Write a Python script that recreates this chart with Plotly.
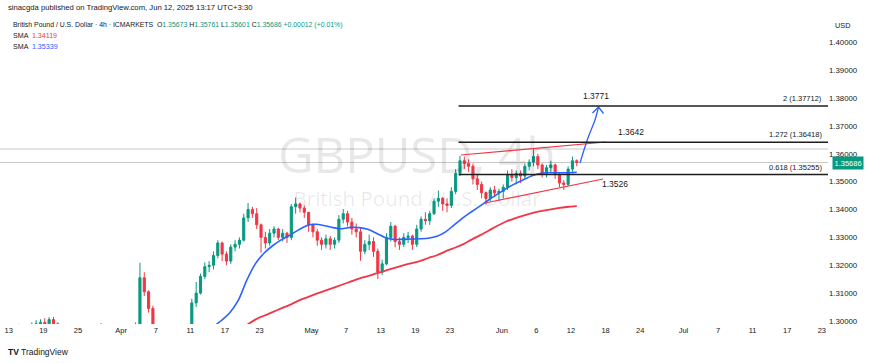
import numpy as np
import pandas as pd
import plotly.graph_objects as go

# ---------------- data ----------------
ORIGIN = "2025-03-12"
bar_days = [d.strftime("%Y-%m-%d") for d in pd.bdate_range("2025-03-12", "2025-06-12")]
bar_times = [f"{d} {h}" for d in bar_days for h in ("00:00", "12:00")]

opens = [1.2940, 1.2950, 1.2960, 1.2945, 1.2955, 1.2965, 1.2935, 1.2955, 1.2985, 1.2990,
         1.2995, 1.2985, 1.3005, 1.2990, 1.2955, 1.2935, 1.2920, 1.2930, 1.2920, 1.2945,
         1.2940, 1.2890, 1.2880, 1.2945, 1.2950, 1.2935, 1.2940, 1.2900, 1.2920, 1.2930,
         1.2910, 1.2920, 1.2985, 1.3155, 1.3105, 1.3045, 1.2895, 1.2780, 1.2760, 1.2800,
         1.2750, 1.2740, 1.2880, 1.2930, 1.2960, 1.3065, 1.3100, 1.3160, 1.3195, 1.3200,
         1.3235, 1.3280, 1.3240, 1.3215, 1.3265, 1.3275, 1.3290, 1.3370, 1.3400, 1.3385,
         1.3345, 1.3300, 1.3280, 1.3315, 1.3330, 1.3300, 1.3315, 1.3300, 1.3410, 1.3420,
         1.3405, 1.3390, 1.3345, 1.3320, 1.3290, 1.3275, 1.3295, 1.3275, 1.3290, 1.3365,
         1.3385, 1.3355, 1.3330, 1.3320, 1.3250, 1.3275, 1.3285, 1.3250, 1.3175, 1.3205,
         1.3300, 1.3340, 1.3285, 1.3275, 1.3300, 1.3305, 1.3275, 1.3330, 1.3365, 1.3360,
         1.3385, 1.3430, 1.3440, 1.3420, 1.3415, 1.3465, 1.3530, 1.3575, 1.3565, 1.3555,
         1.3510, 1.3490, 1.3460, 1.3440, 1.3470, 1.3460, 1.3465, 1.3480, 1.3525, 1.3515,
         1.3530, 1.3520, 1.3555, 1.3570, 1.3590, 1.3560, 1.3530, 1.3550, 1.3560, 1.3525,
         1.3495, 1.3490, 1.3545, 1.3575]
highs = [1.2960, 1.2975, 1.2970, 1.2965, 1.2990, 1.2980, 1.2965, 1.2995, 1.3003, 1.3006,
         1.3010, 1.3014, 1.3015, 1.2995, 1.2970, 1.2960, 1.2945, 1.2950, 1.2960, 1.2960,
         1.2955, 1.2910, 1.2960, 1.2992, 1.2960, 1.2955, 1.2945, 1.2945, 1.2945, 1.2935,
         1.2930, 1.2995, 1.3209, 1.3175, 1.3110, 1.3055, 1.2900, 1.2890, 1.2830, 1.2840,
         1.2780, 1.2900, 1.2960, 1.2990, 1.3080, 1.3140, 1.3170, 1.3210, 1.3215, 1.3250,
         1.3290, 1.3285, 1.3250, 1.3275, 1.3290, 1.3300, 1.3385, 1.3423, 1.3410, 1.3405,
         1.3350, 1.3320, 1.3330, 1.3340, 1.3335, 1.3330, 1.3320, 1.3420, 1.3443, 1.3425,
         1.3415, 1.3390, 1.3350, 1.3330, 1.3300, 1.3310, 1.3305, 1.3300, 1.3380, 1.3402,
         1.3395, 1.3370, 1.3350, 1.3335, 1.3290, 1.3310, 1.3300, 1.3260, 1.3220, 1.3315,
         1.3355, 1.3345, 1.3300, 1.3315, 1.3320, 1.3310, 1.3345, 1.3375, 1.3390, 1.3395,
         1.3440, 1.3468, 1.3445, 1.3440, 1.3480, 1.3545, 1.3593, 1.3590, 1.3580, 1.3565,
         1.3525, 1.3500, 1.3465, 1.3480, 1.3485, 1.3475, 1.3490, 1.3540, 1.3545, 1.3540,
         1.3540, 1.3565, 1.3580, 1.3616, 1.3600, 1.3565, 1.3560, 1.3575, 1.3565, 1.3535,
         1.3505, 1.3555, 1.3590, 1.3580]
lows = [1.2925, 1.2940, 1.2935, 1.2925, 1.2940, 1.2920, 1.2930, 1.2945, 1.2965, 1.2975,
        1.2975, 1.2965, 1.2975, 1.2945, 1.2920, 1.2915, 1.2905, 1.2910, 1.2910, 1.2920,
        1.2870, 1.2860, 1.2875, 1.2930, 1.2920, 1.2915, 1.2875, 1.2890, 1.2905, 1.2880,
        1.2890, 1.2915, 1.2980, 1.3090, 1.3030, 1.2880, 1.2710, 1.2740, 1.2740, 1.2730,
        1.2710, 1.2720, 1.2860, 1.2900, 1.2960, 1.3050, 1.3095, 1.3150, 1.3175, 1.3185,
        1.3225, 1.3215, 1.3200, 1.3205, 1.3250, 1.3260, 1.3285, 1.3355, 1.3370, 1.3330,
        1.3245, 1.3260, 1.3270, 1.3300, 1.3290, 1.3285, 1.3280, 1.3290, 1.3385, 1.3390,
        1.3370, 1.3320, 1.3300, 1.3270, 1.3255, 1.3260, 1.3255, 1.3260, 1.3280, 1.3350,
        1.3340, 1.3310, 1.3300, 1.3216, 1.3240, 1.3255, 1.3230, 1.3150, 1.3165, 1.3200,
        1.3285, 1.3265, 1.3255, 1.3265, 1.3280, 1.3255, 1.3265, 1.3320, 1.3345, 1.3345,
        1.3380, 1.3410, 1.3395, 1.3390, 1.3405, 1.3455, 1.3520, 1.3545, 1.3535, 1.3490,
        1.3470, 1.3440, 1.3418, 1.3430, 1.3445, 1.3430, 1.3440, 1.3470, 1.3500, 1.3490,
        1.3495, 1.3510, 1.3540, 1.3555, 1.3545, 1.3515, 1.3515, 1.3535, 1.3510, 1.3480,
        1.3470, 1.3485, 1.3530, 1.3555]
closes = [1.2950, 1.2960, 1.2945, 1.2955, 1.2965, 1.2935, 1.2955, 1.2985, 1.2990, 1.2995,
          1.2985, 1.3005, 1.2990, 1.2955, 1.2935, 1.2920, 1.2930, 1.2920, 1.2945, 1.2940,
          1.2890, 1.2880, 1.2945, 1.2950, 1.2935, 1.2940, 1.2900, 1.2920, 1.2930, 1.2910,
          1.2920, 1.2985, 1.3155, 1.3105, 1.3045, 1.2895, 1.2780, 1.2760, 1.2800, 1.2750,
          1.2740, 1.2880, 1.2930, 1.2960, 1.3065, 1.3100, 1.3160, 1.3195, 1.3200, 1.3235,
          1.3280, 1.3240, 1.3215, 1.3265, 1.3275, 1.3290, 1.3370, 1.3400, 1.3385, 1.3345,
          1.3300, 1.3280, 1.3315, 1.3330, 1.3300, 1.3315, 1.3300, 1.3410, 1.3420, 1.3405,
          1.3390, 1.3345, 1.3320, 1.3290, 1.3275, 1.3295, 1.3275, 1.3290, 1.3365, 1.3385,
          1.3355, 1.3330, 1.3320, 1.3250, 1.3275, 1.3285, 1.3250, 1.3175, 1.3205, 1.3300,
          1.3340, 1.3285, 1.3275, 1.3300, 1.3305, 1.3275, 1.3330, 1.3365, 1.3360, 1.3385,
          1.3430, 1.3440, 1.3420, 1.3415, 1.3465, 1.3530, 1.3575, 1.3565, 1.3555, 1.3510,
          1.3490, 1.3460, 1.3440, 1.3470, 1.3460, 1.3465, 1.3480, 1.3525, 1.3515, 1.3530,
          1.3520, 1.3555, 1.3570, 1.3590, 1.3560, 1.3530, 1.3550, 1.3560, 1.3525, 1.3495,
          1.3490, 1.3545, 1.3575, 1.35686]

sma_days = ["2025-04-14", "2025-04-15", "2025-04-16", "2025-04-17", "2025-04-18",
            "2025-04-21", "2025-04-22", "2025-04-23", "2025-04-24", "2025-04-25",
            "2025-04-28", "2025-04-29", "2025-04-30", "2025-05-01", "2025-05-02",
            "2025-05-05", "2025-05-06", "2025-05-07", "2025-05-08", "2025-05-09",
            "2025-05-12", "2025-05-13", "2025-05-14", "2025-05-15", "2025-05-16",
            "2025-05-19", "2025-05-20", "2025-05-21", "2025-05-22", "2025-05-23",
            "2025-05-26", "2025-05-27", "2025-05-28", "2025-05-29", "2025-05-30",
            "2025-06-02", "2025-06-03", "2025-06-04", "2025-06-05", "2025-06-06",
            "2025-06-09", "2025-06-10", "2025-06-11", "2025-06-12"]
sma_fast = [1.2950, 1.2975, 1.3000, 1.3028, 1.3072, 1.3145, 1.3205, 1.3243, 1.3270, 1.3291,
            1.3308, 1.3327, 1.3343, 1.3347, 1.3342, 1.3335, 1.3331, 1.3336, 1.3335, 1.3329,
            1.3315, 1.3300, 1.3293, 1.3293, 1.3294, 1.3295, 1.3297, 1.3304, 1.3320, 1.3345,
            1.3370, 1.3392, 1.3413, 1.3435, 1.3455, 1.3475, 1.3492, 1.3507, 1.3521, 1.3530,
            1.3532, 1.3532, 1.3532, 1.35339]
sma_slow = [1.2930, 1.2940, 1.2950, 1.2958, 1.2965, 1.2985, 1.3005, 1.3019, 1.3032, 1.3045,
            1.3058, 1.3073, 1.3085, 1.3097, 1.3108, 1.3119, 1.3130, 1.3141, 1.3152, 1.3161,
            1.3171, 1.3180, 1.3190, 1.3199, 1.3207, 1.3215, 1.3226, 1.3236, 1.3250, 1.3262,
            1.3275, 1.3292, 1.3308, 1.3325, 1.3342, 1.3357, 1.3368, 1.3378, 1.3387, 1.3394,
            1.3400, 1.3405, 1.3409, 1.34119]

tick_dates = ["2025-03-13", "2025-03-19", "2025-03-25", "2025-04-01", "2025-04-07",
              "2025-04-11", "2025-04-17", "2025-04-23", "2025-05-01", "2025-05-07",
              "2025-05-13", "2025-05-19", "2025-05-23", "2025-06-02", "2025-06-06",
              "2025-06-12", "2025-06-18", "2025-06-24", "2025-07-01", "2025-07-07",
              "2025-07-11", "2025-07-17", "2025-07-23"]
tick_labels = ["13", "19", "25", "Apr", "7", "11", "17", "23", "May", "7", "13", "19", "23",
               "Jun", "6", "12", "18", "24", "Jul", "7", "11", "17", "23"]
price_ticks = [1.30, 1.31, 1.32, 1.33, 1.34, 1.35, 1.36, 1.37, 1.38, 1.39, 1.40]

last_price = 1.35686
ref_level = 1.36171
fib_start = "2025-05-26 00:00"
fib_levels = [1.37712, 1.36418, 1.35255]
fib_ratios = ["2", "1.272", "0.618"]
fib_short = ["1.3771", "1.3642", "1.3526"]
fib_short_at = ["2025-06-16 22:00", "2025-06-20 22:00", "2025-06-19 02:00"]

channel_upper_t = ["2025-05-26 06:45", "2025-06-18 01:00"]
channel_upper_p = [1.35956, 1.36423]
channel_lower_t = ["2025-05-29 01:30", "2025-06-17 17:00"]
channel_lower_p = [1.34234, 1.35095]

arrow_t = ["2025-06-13 01:00", "2025-06-13 23:00", "2025-06-16 18:30", "2025-06-17 04:20"]
arrow_p = [1.35669, 1.36566, 1.37212, 1.37679]
arrowhead_t = ["2025-06-16 11:30", "2025-06-17 04:20", "2025-06-17 18:15"]
arrowhead_p = [1.37463, 1.37679, 1.37445]

# ---------------- layout helpers ----------------
W, H = 870, 363
ML, MR, MT, MB = 0, 42, 17, 39
PW, PH = W - ML - MR, H - MT - MB
PX_PER_DAY = 8.65
X0_PX = 0.1
X_MIN = (0 - X0_PX) / PX_PER_DAY
X_MAX = (PW - X0_PX) / PX_PER_DAY
Y_MIN, Y_MAX = 1.29892, 1.40908


def tpos(ts):
    t = pd.Timestamp(ts)
    n = np.busday_count(np.datetime64(ORIGIN), np.datetime64(t.date()))
    return float(n) + (t.hour + t.minute / 60) / 24


def pxx(x):
    return (x - ML) / PW


def pxy(y):
    return (H - MB - y) / PH


GREEN, RED, BLUE = "#089981", "#F23645", "#2962FF"
TXT = "#131722"
FONT = "Liberation Sans, Arial, sans-serif"
WM_FONT = "Open Sans, sans-serif"

bar_x = [tpos(t) + 1 / 6 for t in bar_times]
sma_x = [tpos(d + " 12:00") for d in sma_days]
sma_x[-1] = tpos("2025-06-12 16:00")

fig = go.Figure()

# watermark (behind everything)
WM_X = tpos("2025-05-19 05:00")
fig.add_trace(go.Scatter(x=[WM_X], y=[1.35760], mode="text",
                         text=["GBPUSD, 4h"], textfont=dict(size=49, color="rgba(0,0,0,0.09)", family=WM_FONT),
                         hoverinfo="skip", showlegend=False))
fig.add_trace(go.Scatter(x=[WM_X], y=[1.34320], mode="text",
                         text=["British Pound / U.S. Dollar"],
                         textfont=dict(size=20.5, color="rgba(0,0,0,0.09)", family=WM_FONT),
                         hoverinfo="skip", showlegend=False))

fig.add_trace(go.Candlestick(
    x=bar_x, open=opens, high=highs, low=lows, close=closes,
    increasing=dict(line=dict(color=GREEN, width=1), fillcolor=GREEN),
    decreasing=dict(line=dict(color=RED, width=1), fillcolor=RED),
    whiskerwidth=0, showlegend=False, hoverinfo="skip"))

fig.add_trace(go.Scatter(x=sma_x, y=sma_slow, mode="lines", line=dict(color=RED, width=1.8, shape="spline"),
                         showlegend=False, hoverinfo="skip"))
fig.add_trace(go.Scatter(x=sma_x, y=sma_fast, mode="lines", line=dict(color=BLUE, width=1.6, shape="spline"),
                         showlegend=False, hoverinfo="skip"))

fig.add_trace(go.Scatter(x=[tpos(t) for t in channel_upper_t], y=channel_upper_p, mode="lines",
                         line=dict(color=RED, width=1.2), showlegend=False, hoverinfo="skip"))
fig.add_trace(go.Scatter(x=[tpos(t) for t in channel_lower_t], y=channel_lower_p, mode="lines",
                         line=dict(color=RED, width=1.2), showlegend=False, hoverinfo="skip"))

fig.add_trace(go.Scatter(x=[tpos(t) for t in arrow_t], y=arrow_p, mode="lines",
                         line=dict(color=BLUE, width=1.3, shape="spline"), showlegend=False, hoverinfo="skip"))
fig.add_trace(go.Scatter(x=[tpos(t) for t in arrowhead_t], y=arrowhead_p, mode="lines",
                         line=dict(color=BLUE, width=1.3), showlegend=False, hoverinfo="skip"))

shapes = [
    dict(type="line", xref="paper", yref="y", x0=0, x1=1, y0=ref_level, y1=ref_level,
         line=dict(color="#c8c8c8", width=1), layer="below"),
    dict(type="line", xref="paper", yref="y", x0=0, x1=1, y0=last_price, y1=last_price,
         line=dict(color="#c8c8c8", width=1), layer="below"),
]
for lv in fib_levels:
    shapes.append(dict(type="line", xref="x", yref="y", x0=tpos(fib_start), x1=X_MAX, y0=lv, y1=lv,
                       line=dict(color="#1e1e1e", width=1.5)))

ann = []
for lv, r in zip(fib_levels, fib_ratios):
    ann.append(dict(xref="paper", yref="y", x=pxx(824), y=lv, yshift=7.5, xanchor="right", yanchor="middle",
                    text=f"{r} ({lv:.5f})", showarrow=False, font=dict(size=7.5, color=TXT, family=FONT)))
for lv, s, t, sh in zip(fib_levels, fib_short, fib_short_at, [10, 10, -9.5]):
    ann.append(dict(xref="x", yref="y", x=tpos(t), y=lv, yshift=sh, xanchor="center", yanchor="middle",
                    text=s, showarrow=False, font=dict(size=8.5, color=TXT, family=FONT)))

# header texts
ann.append(dict(xref="paper", yref="paper", x=pxx(6), y=pxy(8), xanchor="left", yanchor="middle",
                text="sinacgda published on TradingView.com, Jun 12, 2025 13:17 UTC+3:30",
                showarrow=False, font=dict(size=7.7, color=TXT, family=FONT)))
g = lambda s: f"<span style='color:{GREEN}'>{s}</span>"
ann.append(dict(xref="paper", yref="paper", x=pxx(11), y=pxy(25), xanchor="left", yanchor="middle",
                text=("British Pound / U.S. Dollar · 4h · ICMARKETS  O" + g("1.35673") + " H" + g("1.35761")
                      + " L" + g("1.35601") + " C" + g("1.35686") + " " + g("+0.00012 (+0.01%)")),
                showarrow=False, font=dict(size=6.9, color=TXT, family=FONT)))
ann.append(dict(xref="paper", yref="paper", x=pxx(11), y=pxy(36), xanchor="left", yanchor="middle",
                text=f"SMA  <span style='color:{RED}'>1.34119</span>",
                showarrow=False, font=dict(size=7.1, color=TXT, family=FONT)))
ann.append(dict(xref="paper", yref="paper", x=pxx(11), y=pxy(47), xanchor="left", yanchor="middle",
                text=f"SMA  <span style='color:{BLUE}'>1.35339</span>",
                showarrow=False, font=dict(size=7.1, color=TXT, family=FONT)))
ann.append(dict(xref="paper", yref="paper", x=pxx(833), y=pxy(25), xanchor="left", yanchor="middle",
                text="USD", showarrow=False, font=dict(size=7.3, color=TXT, family=FONT)))
# last price label
ann.append(dict(xref="paper", yref="y", x=pxx(848), y=last_price, xanchor="center", yanchor="middle",
                text="1.35686", showarrow=False, bgcolor=GREEN, borderpad=1.5,
                font=dict(size=7.5, color="white", family=FONT)))
# footer logo
ann.append(dict(xref="paper", yref="paper", x=pxx(6), y=pxy(352), xanchor="left", yanchor="middle",
                text="<b>TV</b> TradingView", showarrow=False, font=dict(size=8.5, color=TXT, family=FONT)))

fig.update_layout(
    width=W, height=H, margin=dict(l=ML, r=MR, t=MT, b=MB),
    paper_bgcolor="white", plot_bgcolor="white",
    showlegend=False, hovermode=False,
    shapes=shapes, annotations=ann,
    xaxis=dict(range=[X_MIN, X_MAX], tickvals=[tpos(d) for d in tick_dates], ticktext=tick_labels,
               showgrid=False, zeroline=False, showline=False, ticks="",
               tickfont=dict(size=7.5, color=TXT, family=FONT), rangeslider=dict(visible=False),
               fixedrange=True),
    yaxis=dict(range=[Y_MIN, Y_MAX], side="right", tickvals=price_ticks,
               ticktext=[f"{v:.5f}" for v in price_ticks], showgrid=False, zeroline=False,
               showline=False, ticks="", tickfont=dict(size=7.8, color=TXT, family=FONT), fixedrange=True),
)

fig.write_html("out.html", config={"displayModeBar": False},
               post_script="document.body.style.margin='0px';")
